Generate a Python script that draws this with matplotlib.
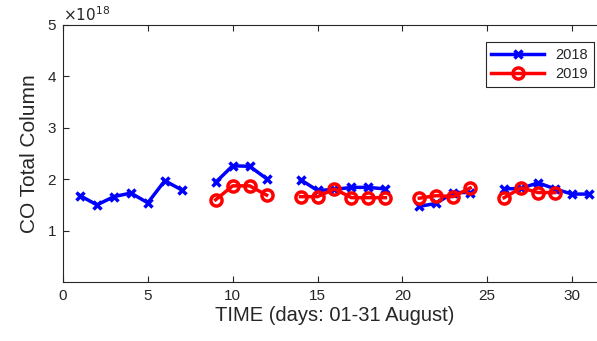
import numpy as np
import matplotlib
matplotlib.use("Agg")
import matplotlib.pyplot as plt

plt.rcParams['font.family'] = ['Liberation Sans', 'DejaVu Sans']

# CO total column, units of 1e18, NaN = no data
days = np.arange(1, 32)
co_2018 = [1.68, 1.50, 1.66, 1.73, 1.54, 1.97, 1.79, np.nan,
           1.94, 2.26, 2.25, 2.01, np.nan,
           1.99, 1.78, 1.80, 1.84, 1.84, 1.81, np.nan,
           1.47, 1.53, 1.74, 1.74, np.nan,
           1.81, 1.82, 1.93, 1.81, 1.71, 1.71]
co_2019 = [np.nan] * 8 + [1.60, 1.87, 1.87, 1.69, np.nan,
           1.66, 1.66, 1.81, 1.64, 1.64, 1.64, np.nan,
           1.63, 1.68, 1.66, 1.83, np.nan,
           1.64, 1.83, 1.74, 1.74, np.nan, np.nan]

grey = '#262626'

fig = plt.figure(figsize=(5.97, 3.41), dpi=100)
# axes runs past the right edge of the picture, like the cropped original
ax = fig.add_axes([0.1055, 0.173, 0.9095, 0.754])

ax.plot(days, co_2018, color='#0000ff', lw=2.5, marker='x', ms=6, mew=2.5, label='2018')
ax.plot(days, co_2019, color='#ff0000', lw=2.5, marker='o', ms=8, mew=2.5,
        mfc='none', label='2019')

ax.set_xlim(0, 32)
ax.set_ylim(0, 5)
ax.set_xticks([0, 5, 10, 15, 20, 25, 30])
ax.set_yticks([1, 2, 3, 4, 5])
ax.tick_params(direction='in', length=4, labelsize=11, colors=grey, top=True, pad=5)
for s in ax.spines.values():
    s.set_color(grey)
    s.set_linewidth(0.8)

ax.set_xlabel('TIME (days: 01-31 August)', fontsize=14.5, color=grey, labelpad=2)
ax.set_ylabel('CO Total Column', fontsize=15, color=grey, labelpad=6)
ax.text(0.0, 1.005, r'$\times10^{18}$', transform=ax.transAxes, fontsize=11,
        color=grey, va='bottom', ha='left')

leg = ax.legend(loc='upper right', bbox_to_anchor=(0.995, 0.877),
                bbox_transform=fig.transFigure, borderaxespad=0, fontsize=10.5,
                fancybox=False, framealpha=1, edgecolor=grey,
                handlelength=3.6, labelspacing=0.35)
leg.get_frame().set_linewidth(0.8)
for t in leg.get_texts():
    t.set_color(grey)

fig.savefig('out.png', dpi=100)
